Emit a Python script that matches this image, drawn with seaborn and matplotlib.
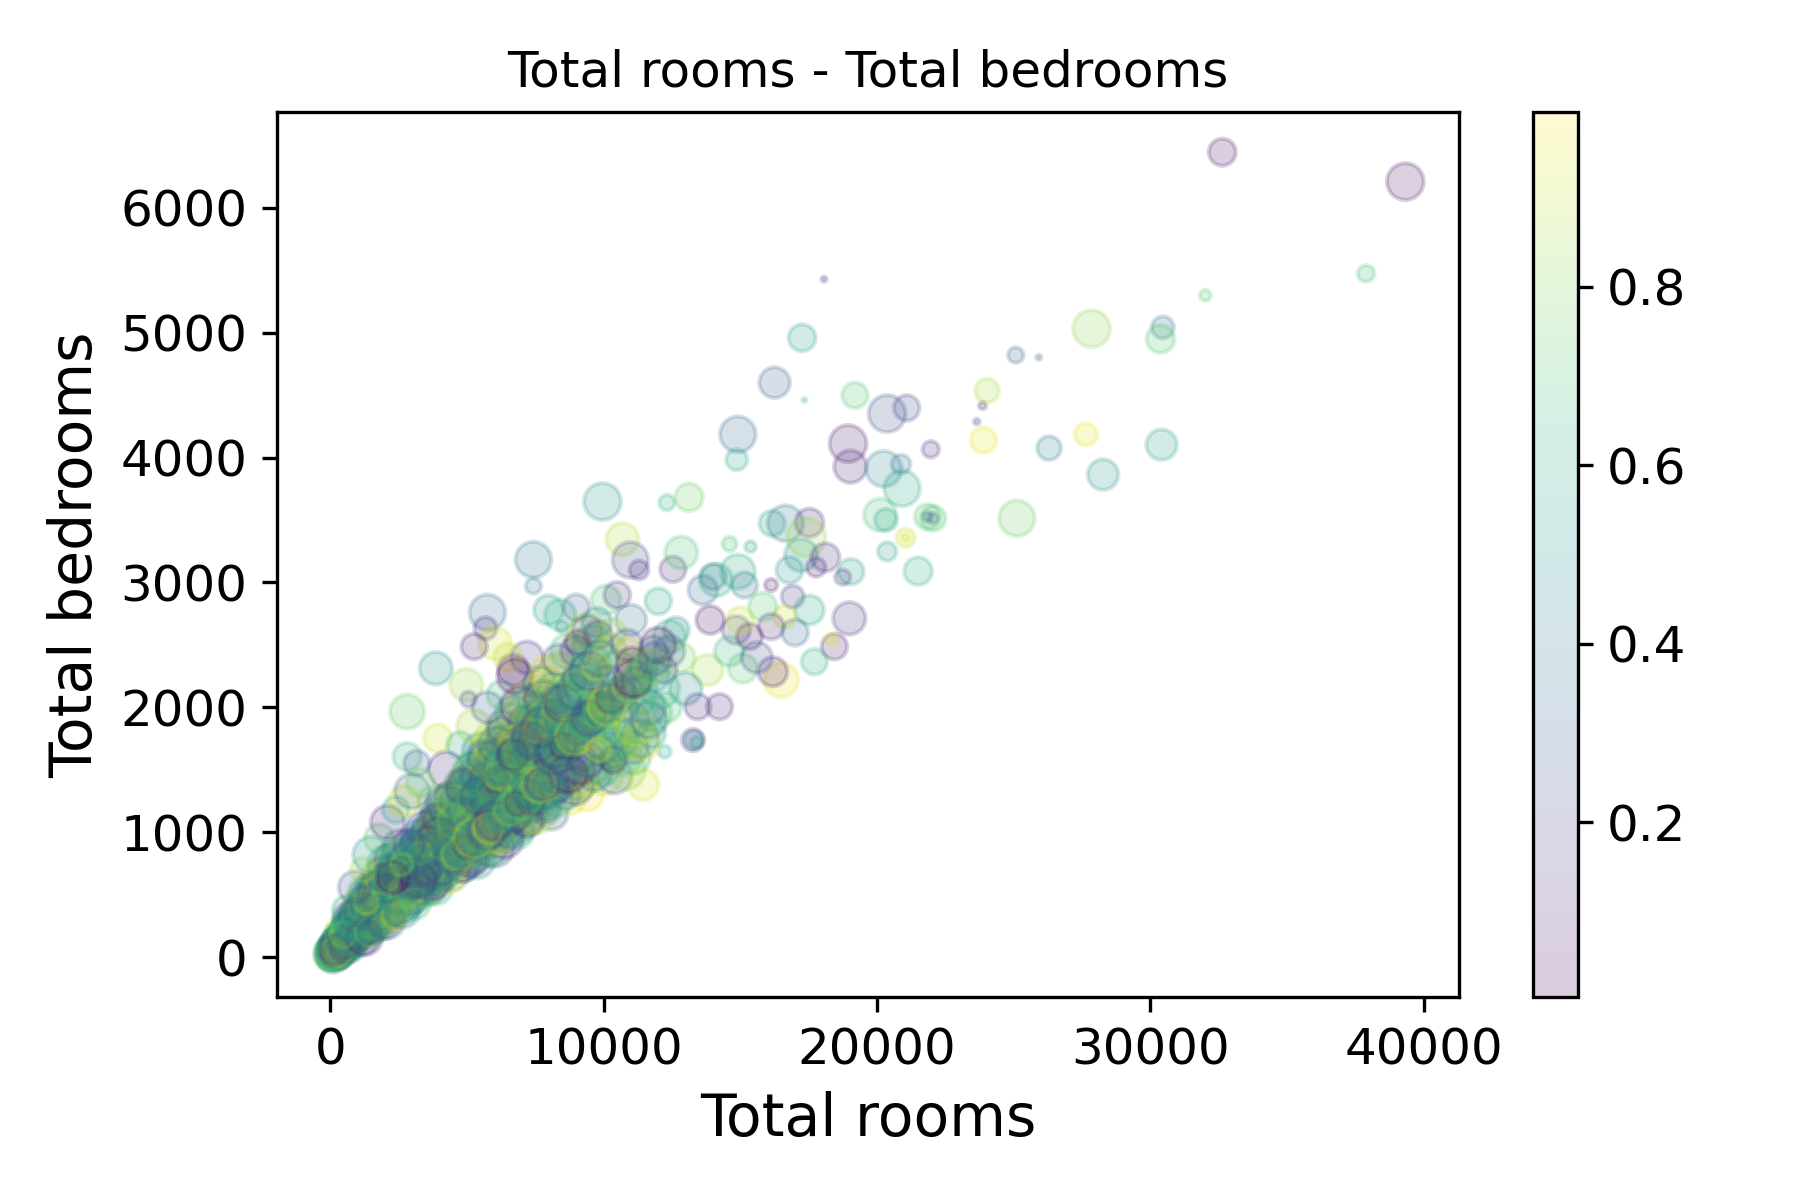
import numpy as np
import pandas as pd
import matplotlib
matplotlib.use("Agg")
import matplotlib.pyplot as plt
import seaborn as sns
from matplotlib.colors import Normalize
from matplotlib.cm import ScalarMappable

# ---------------- data ----------------
# dense core near the origin
rooms_core = [10, 60, 120, 180, 250, 300, 380, 450, 520, 600,
              650, 720, 800, 870, 950, 1000, 1080, 1150, 1220, 1300,
              1350, 1420, 1500, 1580, 1650, 1720, 1800, 1880, 1950, 2020,
              2100, 2180, 2250, 2320, 2400, 2480, 2550, 2620, 2700, 2780,
              2850, 2920, 3000, 3080, 3150, 3220, 3300, 3380, 3450, 3500,
              400, 700, 900, 1100, 1400, 1600, 1900, 2200, 2500, 2900,
              300, 550, 850, 1250, 1450, 1750, 2050, 2350, 2650, 3100,
              150, 480, 780, 1020, 1320, 1680, 2000, 2300, 2600, 3250,
              600, 900, 1200, 1500, 1800, 2100, 2400, 2700, 3000, 3300]
beds_core = [2, 20, 35, 40, 60, 55, 90, 80, 110, 120,
             160, 130, 190, 170, 230, 190, 260, 220, 300, 250,
             330, 270, 380, 300, 420, 330, 460, 360, 500, 390,
             520, 420, 560, 450, 600, 480, 640, 500, 690, 530,
             720, 560, 760, 590, 800, 620, 840, 650, 880, 690,
             150, 260, 330, 390, 480, 560, 640, 720, 800, 900,
             40, 80, 120, 160, 200, 250, 300, 330, 370, 430,
             60, 180, 280, 360, 440, 520, 580, 640, 740, 960,
             380, 560, 700, 820, 950, 1080, 1180, 1250, 1330, 1400]
size_core = [40, 55, 30, 70, 45, 60, 25, 80, 50, 35,
             65, 40, 85, 30, 55, 70, 45, 60, 35, 75,
             50, 65, 40, 80, 30, 55, 70, 45, 60, 85,
             35, 75, 50, 40, 65, 30, 80, 55, 45, 70,
             60, 35, 85, 50, 40, 75, 30, 65, 55, 45,
             70, 45, 60, 35, 80, 50, 65, 40, 75, 55,
             30, 60, 45, 75, 50, 35, 85, 40, 65, 55,
             55, 40, 70, 50, 35, 80, 45, 60, 30, 70,
             45, 60, 35, 75, 50, 65, 40, 55, 70, 45]
shade_core = [0.55, 0.82, 0.31, 0.64, 0.12, 0.93, 0.47, 0.71, 0.05, 0.38,
              0.66, 0.21, 0.88, 0.43, 0.59, 0.14, 0.77, 0.35, 0.96, 0.52,
              0.28, 0.69, 0.09, 0.84, 0.41, 0.62, 0.18, 0.91, 0.50, 0.73,
              0.36, 0.80, 0.004, 0.57, 0.25, 0.87, 0.44, 0.68, 0.11, 0.95,
              0.48, 0.16, 0.75, 0.33, 0.61, 0.07, 0.90, 0.39, 0.54, 0.22,
              0.70, 0.45, 0.13, 0.86, 0.58, 0.29, 0.97, 0.40, 0.63, 0.19,
              0.83, 0.34, 0.60, 0.08, 0.74, 0.51, 0.26, 0.89, 0.42, 0.67,
              0.15, 0.78, 0.53, 0.30, 0.94, 0.46, 0.65, 0.03, 0.81, 0.37,
              0.60, 0.27, 0.85, 0.49, 0.72, 0.10, 0.56, 0.92, 0.32, 0.76]

# extra blocks filling the crowded wedge (0 - 12000 rooms)
rooms_fill = [50, 90, 140, 200, 260, 330, 390, 460, 540, 610, 680, 760, 830, 910, 990, 1070, 1160, 1240, 1330, 1410,
              100, 160, 230, 290, 360, 420, 490, 570, 640, 720, 810, 880, 970, 1040, 1130, 1210, 1290, 1380, 1470, 1560,
              180, 320, 410, 530, 590, 710, 790, 920, 980, 1120, 1190, 1310, 1420, 1480, 1630, 1690, 1820, 1870, 2030, 2090,
              240, 370, 440, 560, 660, 730, 870, 940, 1060, 1140, 1270, 1330, 1460, 1540, 1670, 1740, 1860, 1960, 2040, 2170,
              290, 520, 680, 930, 1080, 1320, 1490, 1720, 1880, 2120, 2280, 2530, 2680, 2930, 3070, 3320, 3480, 3720, 3880, 4130,
              2210, 2380, 2630, 2790, 3020, 3180, 3430, 3590, 3820, 3980, 4230, 4380, 4620, 4790, 5030, 5180, 5420, 5590, 5830, 5980,
              2320, 2470, 2730, 2880, 3120, 3270, 3530, 3680, 3920, 4080, 4320, 4470, 4730, 4880, 5120, 5270, 5530, 5680, 5920, 6080,
              3050, 3350, 3650, 3950, 4250, 4550, 4850, 5150, 5450, 5750, 6050, 6350, 6650, 6950, 7250, 7550, 7850, 8150, 8450, 8750,
              3400, 3750, 4050, 4350, 4700, 5050, 5350, 5700, 6000, 6350, 6700, 7000, 7350, 7700, 8000, 8350, 8700, 9050, 9400, 9800,
              4180, 4430, 4580, 4830, 4980, 5230, 5380, 5630, 5780, 6030, 6180, 6430, 6580, 6830, 6980, 7230, 7380, 7630, 7780, 8030,
              6120, 6280, 6520, 6680, 6920, 7080, 7320, 7480, 7720, 7880, 8120, 8280, 8520, 8680, 8920, 9080, 9320, 9480, 9720, 9880,
              8130, 8270, 8530, 8670, 8930, 9070, 9330, 9470, 9730, 9870, 10130, 10270, 10530, 10670, 10930, 11070, 11330, 11470, 11730, 11870]
beds_fill = [15, 25, 40, 50, 70, 85, 105, 120, 140, 150, 175, 190, 215, 230, 250, 270, 290, 310, 340, 350,
             35, 55, 60, 95, 100, 130, 140, 170, 180, 210, 230, 260, 270, 300, 310, 350, 360, 400, 410, 450,
             45, 75, 80, 120, 125, 170, 160, 210, 205, 260, 250, 300, 290, 340, 345, 390, 380, 430, 420, 480,
             85, 100, 150, 160, 210, 220, 270, 280, 330, 330, 390, 390, 450, 450, 510, 510, 570, 570, 620, 630,
             40, 85, 105, 150, 170, 215, 235, 280, 295, 340, 360, 410, 420, 470, 480, 540, 550, 610, 620, 670,
             470, 540, 550, 630, 640, 710, 730, 810, 820, 890, 910, 980, 1000, 1060, 1090, 1150, 1180, 1240, 1270, 1330,
             650, 690, 770, 800, 880, 910, 990, 1030, 1100, 1140, 1210, 1250, 1330, 1360, 1440, 1470, 1550, 1590, 1660, 1700,
             760, 820, 900, 960, 1040, 1090, 1160, 1230, 1290, 1350, 1420, 1480, 1530, 1600, 1650, 1720, 1780, 1840, 1890, 1950,
             600, 700, 720, 800, 820, 900, 930, 1010, 1040, 1120, 1150, 1230, 1250, 1330, 1360, 1440, 1470, 1550, 1580, 1660,
             750, 800, 820, 870, 890, 950, 960, 1020, 1030, 1090, 1110, 1160, 1180, 1230, 1250, 1310, 1320, 1380, 1390, 1450,
             1450, 1520, 1550, 1620, 1640, 1710, 1740, 1810, 1840, 1910, 1930, 2000, 2030, 2100, 2130, 2190, 2220, 2290, 2320, 2390,
             1610, 1670, 1690, 1750, 1770, 1830, 1850, 1910, 1930, 1990, 2010, 2070, 2090, 2150, 2170, 2230, 2250, 2310, 2330, 2390]
size_fill = [45, 70, 30, 85, 55, 40, 75, 60, 35, 90, 50, 65, 25, 80, 45, 70, 55, 40, 85, 60,
             60, 35, 80, 50, 70, 45, 90, 30, 65, 55, 85, 40, 75, 50, 35, 80, 60, 45, 70, 55,
             75, 50, 40, 65, 30, 85, 55, 70, 45, 80, 35, 60, 90, 50, 75, 40, 65, 55, 30, 85,
             40, 85, 60, 35, 75, 55, 45, 80, 65, 30, 70, 50, 85, 40, 60, 90, 35, 75, 55, 45,
             65, 45, 75, 55, 90, 35, 60, 40, 85, 70, 50, 80, 30, 65, 55, 45, 75, 85, 40, 60,
             50, 80, 35, 70, 45, 60, 85, 55, 40, 75, 65, 30, 55, 90, 45, 70, 50, 35, 80, 65,
             85, 55, 65, 40, 60, 80, 35, 75, 50, 45, 90, 60, 40, 70, 85, 55, 30, 65, 45, 75,
             35, 65, 50, 85, 40, 70, 55, 45, 80, 60, 35, 75, 65, 45, 50, 85, 70, 40, 60, 90,
             55, 40, 70, 45, 65, 50, 30, 85, 60, 35, 75, 55, 45, 80, 40, 65, 85, 50, 70, 35,
             70, 60, 45, 75, 35, 90, 65, 50, 55, 85, 40, 70, 60, 35, 80, 50, 45, 75, 65, 40,
             45, 75, 85, 55, 60, 40, 70, 35, 90, 50, 65, 45, 80, 55, 70, 35, 60, 85, 40, 75,
             80, 50, 40, 65, 85, 55, 45, 70, 35, 60, 90, 50, 75, 40, 65, 80, 55, 45, 70, 60]
shade_fill = [0.37, 0.81, 0.12, 0.66, 0.48, 0.93, 0.25, 0.71, 0.04, 0.58, 0.86, 0.19, 0.42, 0.77, 0.31, 0.64, 0.09, 0.53, 0.97, 0.28,
              0.74, 0.16, 0.59, 0.88, 0.35, 0.07, 0.63, 0.45, 0.92, 0.22, 0.51, 0.79, 0.14, 0.68, 0.40, 0.85, 0.27, 0.96, 0.56, 0.11,
              0.49, 0.83, 0.21, 0.67, 0.03, 0.75, 0.38, 0.90, 0.17, 0.61, 0.44, 0.72, 0.29, 0.95, 0.06, 0.54, 0.80, 0.33, 0.65, 0.13,
              0.91, 0.26, 0.57, 0.10, 0.78, 0.43, 0.69, 0.18, 0.84, 0.36, 0.62, 0.02, 0.73, 0.47, 0.94, 0.23, 0.52, 0.87, 0.15, 0.60,
              0.20, 0.70, 0.46, 0.89, 0.32, 0.55, 0.08, 0.76, 0.41, 0.98, 0.24, 0.63, 0.85, 0.12, 0.57, 0.34, 0.79, 0.05, 0.67, 0.44,
              0.58, 0.11, 0.82, 0.39, 0.66, 0.94, 0.27, 0.50, 0.73, 0.16, 0.87, 0.45, 0.21, 0.61, 0.99, 0.30, 0.76, 0.09, 0.53, 0.84,
              0.14, 0.63, 0.35, 0.78, 0.52, 0.23, 0.90, 0.41, 0.07, 0.69, 0.31, 0.86, 0.56, 0.18, 0.74, 0.47, 0.95, 0.26, 0.81, 0.38,
              0.68, 0.29, 0.92, 0.13, 0.59, 0.83, 0.40, 0.71, 0.22, 0.54, 0.06, 0.77, 0.36, 0.89, 0.48, 0.15, 0.64, 0.97, 0.32, 0.72,
              0.43, 0.87, 0.19, 0.62, 0.96, 0.33, 0.75, 0.08, 0.55, 0.81, 0.28, 0.66, 0.11, 0.50, 0.84, 0.39, 0.02, 0.70, 0.25, 0.91,
              0.60, 0.24, 0.76, 0.46, 0.12, 0.88, 0.53, 0.30, 0.97, 0.17, 0.65, 0.42, 0.80, 0.05, 0.72, 0.35, 0.58, 0.93, 0.20, 0.49,
              0.85, 0.38, 0.67, 0.04, 0.74, 0.51, 0.27, 0.92, 0.16, 0.63, 0.45, 0.83, 0.10, 0.57, 0.31, 0.79, 0.68, 0.22, 0.95, 0.40,
              0.26, 0.71, 0.09, 0.55, 0.89, 0.34, 0.62, 0.18, 0.78, 0.47, 0.94, 0.13, 0.58, 0.37, 0.86, 0.03, 0.69, 0.50, 0.82, 0.29]

# more blocks widening the wedge (upper and lower edges of the crowd)
rooms_fill2 = [3100, 3450, 3800, 4150, 4500, 4850, 5200, 5550, 5900, 6250, 6600, 6950, 7300, 7650, 8000, 8350, 8700, 9050, 9400, 9750,
               5100, 5450, 5800, 6150, 6500, 6850, 7200, 7550, 7900, 8250, 8600, 8950, 9300, 9650, 10000, 10350, 10700, 11050, 11400, 11750,
               2650, 3000, 3350, 3700, 4050, 4400, 4750, 5100, 5450, 5800, 6150, 6500, 6850, 7200, 7550, 7900, 8250, 8600, 8950, 9300,
               110, 210, 310, 430, 500, 620, 740, 820, 960, 1030, 1170, 1260, 1390, 1520, 1610, 1780, 1910, 2060, 2250, 2460,
               130, 270, 350, 480, 580, 700, 780, 890, 1010, 1100, 1230, 1370, 1510, 1640, 1790, 1930, 2080, 2230, 2390, 2560,
               3250, 3600, 3900, 4300, 4650, 4950, 5300, 5650, 6050, 6400, 6750, 7100, 7450, 7800, 8150, 8550, 8900, 9250, 9650, 10050,
               620, 760, 880, 1050, 1190, 1340, 1470, 1590, 1720, 1850, 1990, 2110, 2260, 2390, 2510, 2640, 2760, 2890, 2990, 3140,
               9150, 9550, 9950, 10250, 10600, 10850, 11150, 11500, 11850, 12200, 9350, 9750, 10150, 10450, 10750, 11050, 11350, 11650, 12050, 12400]
beds_fill2 = [900, 1020, 1080, 1230, 1290, 1420, 1480, 1620, 1690, 1810, 1900, 2010, 2080, 2200, 2270, 2380, 2450, 2520, 2600, 2680,
              780, 830, 880, 950, 980, 1050, 1090, 1150, 1190, 1260, 1300, 1370, 1400, 1470, 1500, 1580, 1610, 1680, 1720, 1790,
              680, 740, 850, 900, 1010, 1080, 1200, 1250, 1370, 1420, 1540, 1600, 1720, 1770, 1890, 1950, 2060, 2120, 2230, 2290,
              30, 45, 70, 95, 120, 140, 160, 200, 220, 240, 270, 310, 320, 370, 380, 420, 450, 490, 520, 580,
              50, 95, 130, 180, 220, 260, 300, 340, 380, 410, 460, 500, 550, 590, 640, 690, 740, 780, 830, 880,
              690, 740, 830, 870, 970, 1010, 1100, 1140, 1240, 1290, 1380, 1420, 1520, 1560, 1650, 1700, 1790, 1840, 1930, 1980,
              130, 160, 200, 215, 260, 280, 320, 330, 380, 390, 440, 450, 500, 510, 560, 570, 620, 630, 680, 690,
              1500, 2350, 1650, 2450, 1750, 2500, 1850, 2150, 1950, 2300, 1900, 2050, 2200, 1700, 2000, 2350, 2050, 1900, 2150, 2450]
size_fill2 = [55, 80, 40, 70, 60, 35, 85, 50, 75, 45, 65, 90, 40, 60, 80, 55, 70, 35, 85, 50,
              70, 45, 85, 55, 40, 75, 60, 90, 35, 65, 50, 80, 45, 70, 55, 40, 85, 60, 75, 45,
              40, 65, 55, 80, 70, 45, 35, 75, 60, 85, 50, 40, 70, 55, 90, 65, 45, 80, 35, 60,
              85, 50, 70, 40, 60, 90, 55, 45, 80, 35, 75, 65, 50, 85, 40, 70, 60, 55, 45, 80,
              60, 75, 35, 85, 50, 65, 80, 40, 55, 70, 45, 90, 60, 35, 75, 50, 85, 65, 40, 70,
              45, 60, 90, 50, 80, 40, 70, 65, 85, 55, 35, 75, 45, 80, 60, 90, 50, 40, 70, 55,
              75, 40, 60, 65, 35, 85, 45, 80, 50, 90, 60, 55, 75, 40, 65, 45, 80, 70, 55, 85,
              50, 85, 45, 60, 75, 55, 90, 35, 70, 40, 80, 50, 65, 85, 45, 60, 40, 75, 90, 55]
shade_fill2 = [0.52, 0.18, 0.87, 0.33, 0.71, 0.06, 0.64, 0.45, 0.92, 0.27, 0.79, 0.11, 0.58, 0.39, 0.95, 0.21, 0.68, 0.03, 0.84, 0.47,
               0.15, 0.76, 0.41, 0.93, 0.28, 0.62, 0.09, 0.85, 0.36, 0.70, 0.50, 0.19, 0.88, 0.43, 0.65, 0.02, 0.74, 0.31, 0.97, 0.57,
               0.81, 0.35, 0.63, 0.12, 0.90, 0.48, 0.24, 0.77, 0.55, 0.08, 0.69, 0.40, 0.96, 0.17, 0.59, 0.86, 0.30, 0.73, 0.14, 0.66,
               0.44, 0.89, 0.20, 0.67, 0.05, 0.75, 0.53, 0.32, 0.94, 0.13, 0.61, 0.82, 0.37, 0.71, 0.26, 0.98, 0.46, 0.10, 0.78, 0.56,
               0.72, 0.07, 0.58, 0.91, 0.34, 0.64, 0.19, 0.83, 0.42, 0.97, 0.25, 0.68, 0.51, 0.04, 0.87, 0.38, 0.60, 0.15, 0.76, 0.29,
               0.33, 0.95, 0.48, 0.21, 0.80, 0.10, 0.67, 0.42, 0.88, 0.56, 0.02, 0.74, 0.35, 0.91, 0.18, 0.63, 0.85, 0.27, 0.52, 0.70,
               0.63, 0.26, 0.82, 0.50, 0.14, 0.71, 0.39, 0.95, 0.08, 0.57, 0.78, 0.32, 0.66, 0.20, 0.89, 0.45, 0.12, 0.74, 0.54, 0.99,
               0.09, 0.68, 0.36, 0.86, 0.57, 0.23, 0.92, 0.47, 0.70, 0.15, 0.61, 0.96, 0.28, 0.80, 0.43, 0.05, 0.75, 0.38, 0.65, 0.31]

# third layer of the crowd (darkens the wedge)
rooms_fill3 = [400, 650, 900, 1150, 1400, 1650, 1900, 2150, 2400, 2650, 2900, 3150, 3400, 3650, 3900, 4150, 4400, 4650, 4900, 5150,
               5400, 5650, 5900, 6150, 6400, 6650, 6900, 7150, 7400, 7650, 7900, 8150, 8400, 8650, 8900, 9150, 9400, 9650, 9900, 10150,
               1500, 1850, 2200, 2550, 2900, 3250, 3600, 3950, 4300, 4650, 5000, 5350, 5700, 6050, 6400, 6750, 7100, 7450, 7800, 8150,
               1600, 1950, 2300, 2650, 3000, 3350, 3700, 4050, 4400, 4750, 5100, 5450, 5800, 6150, 6500, 6850, 7200, 7550, 7900, 8250,
               70, 170, 280, 380, 470, 570, 670, 770, 860, 950, 1060, 1150, 1250, 1350, 1440, 1550, 1650, 1760, 1850, 1980,
               2500, 2750, 3050, 3300, 3550, 3850, 4100, 4350, 4600, 4900, 5150, 5400, 5700, 5950, 6200, 6500, 6750, 7000, 7300, 7550]
beds_fill3 = [110, 140, 230, 250, 340, 360, 450, 470, 560, 580, 670, 690, 780, 800, 890, 910, 1000, 1020, 1110, 1130,
              1180, 1300, 1260, 1390, 1330, 1470, 1410, 1560, 1490, 1640, 1560, 1730, 1640, 1810, 1720, 1900, 1790, 1980, 1870, 2070,
              450, 540, 620, 720, 800, 900, 980, 1080, 1160, 1260, 1340, 1440, 1520, 1620, 1700, 1800, 1880, 1980, 2060, 2160,
              270, 330, 390, 440, 500, 560, 620, 680, 740, 800, 860, 920, 980, 1040, 1100, 1160, 1220, 1280, 1340, 1400,
              20, 50, 65, 100, 115, 150, 165, 195, 220, 235, 270, 285, 320, 330, 370, 380, 420, 430, 470, 480,
              520, 640, 630, 760, 750, 880, 860, 1000, 970, 1120, 1080, 1230, 1190, 1340, 1300, 1460, 1410, 1570, 1530, 1690]
size_fill3 = [80, 60, 90, 70, 55, 85, 65, 75, 50, 90, 60, 80, 70, 55, 85, 65, 75, 90, 60, 70,
              65, 85, 55, 75, 90, 60, 80, 70, 50, 85, 75, 65, 90, 55, 70, 80, 60, 85, 75, 65,
              70, 55, 80, 65, 85, 50, 75, 90, 60, 70, 85, 55, 80, 65, 90, 75, 60, 70, 85, 50,
              85, 70, 60, 90, 55, 75, 65, 80, 70, 50, 90, 60, 75, 85, 65, 55, 80, 70, 60, 90,
              60, 80, 70, 50, 85, 65, 90, 55, 75, 80, 60, 70, 85, 50, 90, 65, 75, 60, 80, 70,
              75, 65, 85, 60, 70, 90, 55, 80, 65, 75, 50, 85, 70, 90, 60, 80, 65, 55, 75, 85]
shade_fill3 = [0.61, 0.27, 0.84, 0.45, 0.09, 0.73, 0.36, 0.92, 0.18, 0.55, 0.80, 0.04, 0.67, 0.31, 0.96, 0.49, 0.14, 0.77, 0.40, 0.88,
               0.23, 0.70, 0.52, 0.95, 0.34, 0.12, 0.81, 0.58, 0.07, 0.66, 0.43, 0.90, 0.26, 0.75, 0.16, 0.62, 0.98, 0.38, 0.53, 0.85,
               0.47, 0.93, 0.19, 0.64, 0.82, 0.30, 0.57, 0.05, 0.72, 0.41, 0.87, 0.22, 0.68, 0.11, 0.50, 0.94, 0.35, 0.79, 0.03, 0.60,
               0.76, 0.14, 0.59, 0.38, 0.91, 0.48, 0.24, 0.69, 0.86, 0.02, 0.63, 0.33, 0.78, 0.54, 0.17, 0.95, 0.42, 0.08, 0.71, 0.29,
               0.35, 0.82, 0.06, 0.71, 0.50, 0.93, 0.27, 0.64, 0.13, 0.88, 0.44, 0.60, 0.21, 0.97, 0.39, 0.75, 0.10, 0.56, 0.84, 0.46,
               0.90, 0.40, 0.65, 0.15, 0.79, 0.32, 0.58, 0.96, 0.24, 0.51, 0.70, 0.08, 0.87, 0.44, 0.19, 0.62, 0.99, 0.28, 0.73, 0.05]

# main band 3500 - 8000 rooms
rooms_mid = [3600, 3700, 3800, 3900, 4000, 4100, 4200, 4300, 4400, 4500,
             4600, 4700, 4800, 4900, 5000, 5100, 5200, 5300, 5400, 5500,
             5600, 5700, 5800, 5900, 6000, 6100, 6200, 6300, 6400, 6500,
             6600, 6700, 6800, 6900, 7000, 7100, 7200, 7300, 7400, 7500,
             7600, 7700, 7800, 7900, 8000, 3750, 4250, 4750, 5250, 5750,
             6250, 6750, 7250, 7750, 3650, 4150, 4650, 5150, 5650, 6150,
             6650, 7150, 7650, 3850, 4350, 4850, 5350, 5850, 6350, 6850,
             7350, 7850, 4050, 4550, 5050, 5550, 6050, 6550, 7050, 7550]
beds_mid = [560, 900, 700, 1150, 620, 1000, 780, 1300, 680, 1100,
            850, 1400, 760, 1200, 950, 1550, 820, 1250, 1050, 1650,
            900, 1350, 1100, 1750, 880, 1450, 1200, 1850, 1000, 1500,
            1300, 1950, 1050, 1600, 1400, 2050, 1150, 1700, 1500, 2150,
            1250, 1800, 1550, 2200, 1350, 1250, 1500, 1700, 1850, 2000,
            2100, 2250, 1850, 1950, 780, 850, 1000, 1100, 1250, 1300,
            1150, 1300, 1400, 560, 650, 720, 780, 850, 950, 1000,
            1100, 1200, 900, 1000, 1150, 1300, 1600, 1700, 1850, 1750]
size_mid = [70, 45, 85, 55, 40, 75, 60, 35, 80, 50,
            65, 40, 90, 55, 70, 30, 85, 45, 60, 75,
            50, 80, 40, 65, 90, 35, 70, 55, 85, 45,
            60, 75, 50, 85, 40, 70, 90, 55, 65, 35,
            80, 45, 70, 60, 85, 50, 75, 40, 65, 55,
            45, 70, 85, 50, 60, 90, 40, 75, 55, 65,
            85, 55, 40, 70, 65, 50, 80, 45, 90, 60,
            50, 65, 75, 40, 85, 55, 70, 60, 45, 80]
shade_mid = [0.42, 0.87, 0.15, 0.63, 0.91, 0.28, 0.74, 0.06, 0.55, 0.81,
             0.33, 0.68, 0.12, 0.95, 0.47, 0.79, 0.22, 0.58, 0.90, 0.37,
             0.71, 0.04, 0.52, 0.86, 0.25, 0.64, 0.93, 0.18, 0.45, 0.77,
             0.09, 0.61, 0.83, 0.30, 0.56, 0.97, 0.40, 0.73, 0.14, 0.88,
             0.50, 0.23, 0.69, 0.92, 0.35, 0.80, 0.11, 0.60, 0.85, 0.27,
             0.66, 0.02, 0.94, 0.44, 0.76, 0.19, 0.57, 0.89, 0.31, 0.70,
             0.13, 0.84, 0.48, 0.65, 0.996, 0.26, 0.53, 0.78, 0.08, 0.62,
             0.90, 0.36, 0.72, 0.17, 0.59, 0.82, 0.41, 0.05, 0.67, 0.46]

# band 8000 - 12000 rooms
rooms_upper = [8100, 8200, 8300, 8400, 8500, 8600, 8700, 8800, 8900, 9000,
               9100, 9200, 9300, 9400, 9500, 9600, 9700, 9800, 9900, 10000,
               10100, 10200, 10300, 10400, 10500, 10600, 10700, 10800, 10900, 11000,
               11100, 11200, 11300, 11400, 11450, 11600, 11800, 12000, 8450, 9650]
beds_upper = [1150, 1900, 1350, 2300, 1500, 1700, 2050, 1250, 1850, 2450,
              1400, 1600, 2150, 1300, 1900, 2500, 1500, 1750, 2200, 1450,
              2000, 1650, 2600, 1450, 2300, 1800, 2100, 1500, 2450, 1900,
              1600, 2200, 1750, 2350, 1380, 2000, 2250, 2500, 1700, 2000]
size_upper = [60, 85, 45, 70, 90, 50, 75, 40, 80, 55,
              70, 45, 85, 60, 50, 90, 40, 75, 65, 80,
              55, 80, 45, 70, 85, 60, 50, 90, 40, 75,
              65, 50, 85, 45, 55, 75, 60, 70, 80, 45]
shade_upper = [0.29, 0.75, 0.08, 0.88, 0.52, 0.16, 0.67, 0.94, 0.39, 0.03,
               0.81, 0.21, 0.58, 0.96, 0.12, 0.47, 0.73, 0.33, 0.62, 0.90,
               0.06, 0.54, 0.85, 0.24, 0.70, 0.43, 0.15, 0.78, 0.99, 0.36,
               0.64, 0.10, 0.49, 0.83, 0.93, 0.27, 0.57, 0.02, 0.71, 0.44]

# sparse band 12000 - 19000 rooms
rooms_band = [12319, 13122, 10688, 10980, 11297, 12538, 12842, 14607, 15374, 16166,
              16652, 17528, 17406, 17224, 18112, 17771, 19049, 18745, 14000, 14911,
              15154, 16128, 16919, 17528, 16615, 16128, 18988, 18440, 18355, 17710,
              16493, 16189, 15094, 14241, 13268, 13400, 12233, 12416, 11808, 12660,
              13633, 14120, 14850, 15337, 15823, 13443, 13303, 13800, 13000, 14600,
              15600, 12800, 13900, 12300, 15000, 16800, 17000, 12000]
beds_band = [3640, 3682, 3346, 3180, 3100, 3106, 3239, 3309, 3287, 3474,
             3474, 3479, 3362, 3220, 3202, 3122, 3087, 3042, 3047, 3087,
             2980, 2980, 2887, 2780, 2727, 2647, 2713, 2487, 2545, 2366,
             2220, 2286, 2313, 2006, 1739, 1720, 1646, 2567, 2460, 2620,
             2940, 3020, 2620, 2567, 2807, 2006, 1740, 2300, 2150, 2450,
             2400, 2400, 2700, 2000, 2700, 3100, 2600, 2850]
size_band = [14, 45, 61, 74, 21, 38, 61, 12, 7, 38,
             74, 46, 87, 61, 46, 21, 38, 14, 38, 68,
             38, 9, 29, 49, 29, 38, 61, 38, 9, 38,
             68, 49, 49, 38, 29, 8, 9, 61, 45, 38,
             49, 61, 45, 38, 45, 38, 20, 55, 60, 50,
             55, 50, 45, 50, 40, 40, 40, 40]
shade_band = [0.62, 0.76, 0.88, 0.24, 0.10, 0.13, 0.70, 0.68, 0.55, 0.58,
              0.38, 0.12, 0.84, 0.52, 0.14, 0.08, 0.56, 0.18, 0.30, 0.60,
              0.36, 0.06, 0.16, 0.58, 0.92, 0.11, 0.15, 0.09, 0.94, 0.62,
              0.95, 0.07, 0.74, 0.10, 0.14, 0.55, 0.60, 0.64, 0.34, 0.48,
              0.32, 0.60, 0.20, 0.04, 0.72, 0.12, 0.40, 0.85, 0.45, 0.66,
              0.26, 0.80, 0.05, 0.69, 0.90, 0.50, 0.33, 0.58]

# circles sitting above the main band (2800 - 11000 rooms)
rooms_ridge = [7991, 8410, 10088, 8480, 9958, 7434, 7434, 9000, 9400, 10500,
               11000, 9800, 5754, 5684, 6034, 5265, 3867, 4985, 5055, 2818,
               3937, 2818, 3168, 6700, 7200, 6500]
beds_ridge = [2780, 2740, 2860, 2647, 3648, 3183, 2972, 2800, 2620, 2900,
              2700, 2580, 2760, 2633, 2513, 2487, 2313, 2180, 2065, 1966,
              1753, 1606, 1553, 2300, 2400, 2400]
size_ridge = [50, 55, 49, 8, 79, 74, 14, 40, 50, 40,
              55, 45, 74, 29, 61, 38, 61, 61, 14, 68,
              45, 45, 38, 55, 60, 45]
shade_ridge = [0.55, 0.62, 0.70, 0.50, 0.52, 0.38, 0.40, 0.30, 0.12, 0.18,
               0.36, 0.04, 0.36, 0.14, 0.92, 0.10, 0.50, 0.84, 0.20, 0.74,
               0.92, 0.66, 0.30, 0.07, 0.15, 0.90]

# isolated large blocks (top right)
rooms_far = [32627, 39320, 37884, 32004, 18060, 27846, 30450, 30366, 25074, 25914,
             17262, 16254, 17346, 19194, 20370, 21084, 23856, 24024, 14910, 14868,
             18942, 19026, 20244, 20874, 20916, 21966, 23646, 23898, 27636, 26292,
             28266, 30408, 25116, 21504, 22050, 22050, 20370, 20118, 21042, 20327,
             21848, 21848, 21042]
beds_far = [6445, 6210, 5474, 5299, 5428, 5032, 5042, 4950, 4821, 4802,
            4959, 4600, 4462, 4499, 4352, 4398, 4416, 4536, 4186, 3984,
            4112, 3928, 3910, 3947, 3754, 4066, 4287, 4140, 4186, 4076,
            3864, 4103, 3514, 3091, 3514, 3514, 3248, 3542, 3358, 3501,
            3527, 3527, 3358]
size_far = [42, 78, 16, 7, 1.5, 79, 28, 45, 14, 1.5,
            42, 54, 0.8, 38, 79, 38, 3, 33, 74, 26,
            79, 61, 74, 21, 74, 16, 2, 38, 29, 33,
            54, 54, 74, 45, 36, 6, 20, 61, 20, 29,
            38, 5, 3]
shade_far = [0.05, 0.06, 0.68, 0.72, 0.12, 0.82, 0.38, 0.72, 0.33, 0.35,
             0.55, 0.28, 0.60, 0.72, 0.25, 0.22, 0.15, 0.86, 0.32, 0.57,
             0.08, 0.10, 0.45, 0.35, 0.58, 0.12, 0.20, 0.95, 0.95, 0.42,
             0.50, 0.55, 0.76, 0.62, 0.70, 0.30, 0.55, 0.70, 0.90, 0.60,
             0.72, 0.30, 0.95]

# ---------------- assemble ----------------
df = pd.DataFrame({
    "rooms": rooms_far + rooms_band + rooms_ridge + rooms_upper + rooms_mid
             + rooms_fill3 + rooms_fill2 + rooms_fill + rooms_core,
    "bedrooms": beds_far + beds_band + beds_ridge + beds_upper + beds_mid
                + beds_fill3 + beds_fill2 + beds_fill + beds_core,
    "size": size_far + size_band + size_ridge + size_upper + size_mid
            + size_fill3 + size_fill2 + size_fill + size_core,
    "shade": shade_far + shade_band + shade_ridge + shade_upper + shade_mid
             + shade_fill3 + shade_fill2 + shade_fill + shade_core,
})

vmin, vmax = df["shade"].min(), df["shade"].max()
smin, smax = df["size"].min(), df["size"].max()

fig = plt.figure(figsize=(6, 4), dpi=300)
ax = fig.add_axes([0.1537, 0.169, 0.6569, 0.7377])
cax = fig.add_axes([0.8515, 0.169, 0.025, 0.7377])

sns.scatterplot(data=df, x="rooms", y="bedrooms", hue="shade", size="size",
                palette="viridis", hue_norm=(vmin, vmax),
                sizes=(smin, smax), size_norm=(smin, smax),
                alpha=0.2, edgecolor="face", linewidth=1.0,
                legend=False, ax=ax)

ax.set_title("Total rooms - Total bedrooms", fontsize=12)
ax.set_xlabel("Total rooms", fontsize=14)
ax.set_ylabel("Total bedrooms", fontsize=14)
ax.tick_params(labelsize=12)

sm = ScalarMappable(norm=Normalize(vmin=vmin, vmax=vmax), cmap="viridis")
cb = fig.colorbar(sm, cax=cax, alpha=0.2)
cb.ax.tick_params(labelsize=12)

fig.savefig("out.png", dpi=300)
